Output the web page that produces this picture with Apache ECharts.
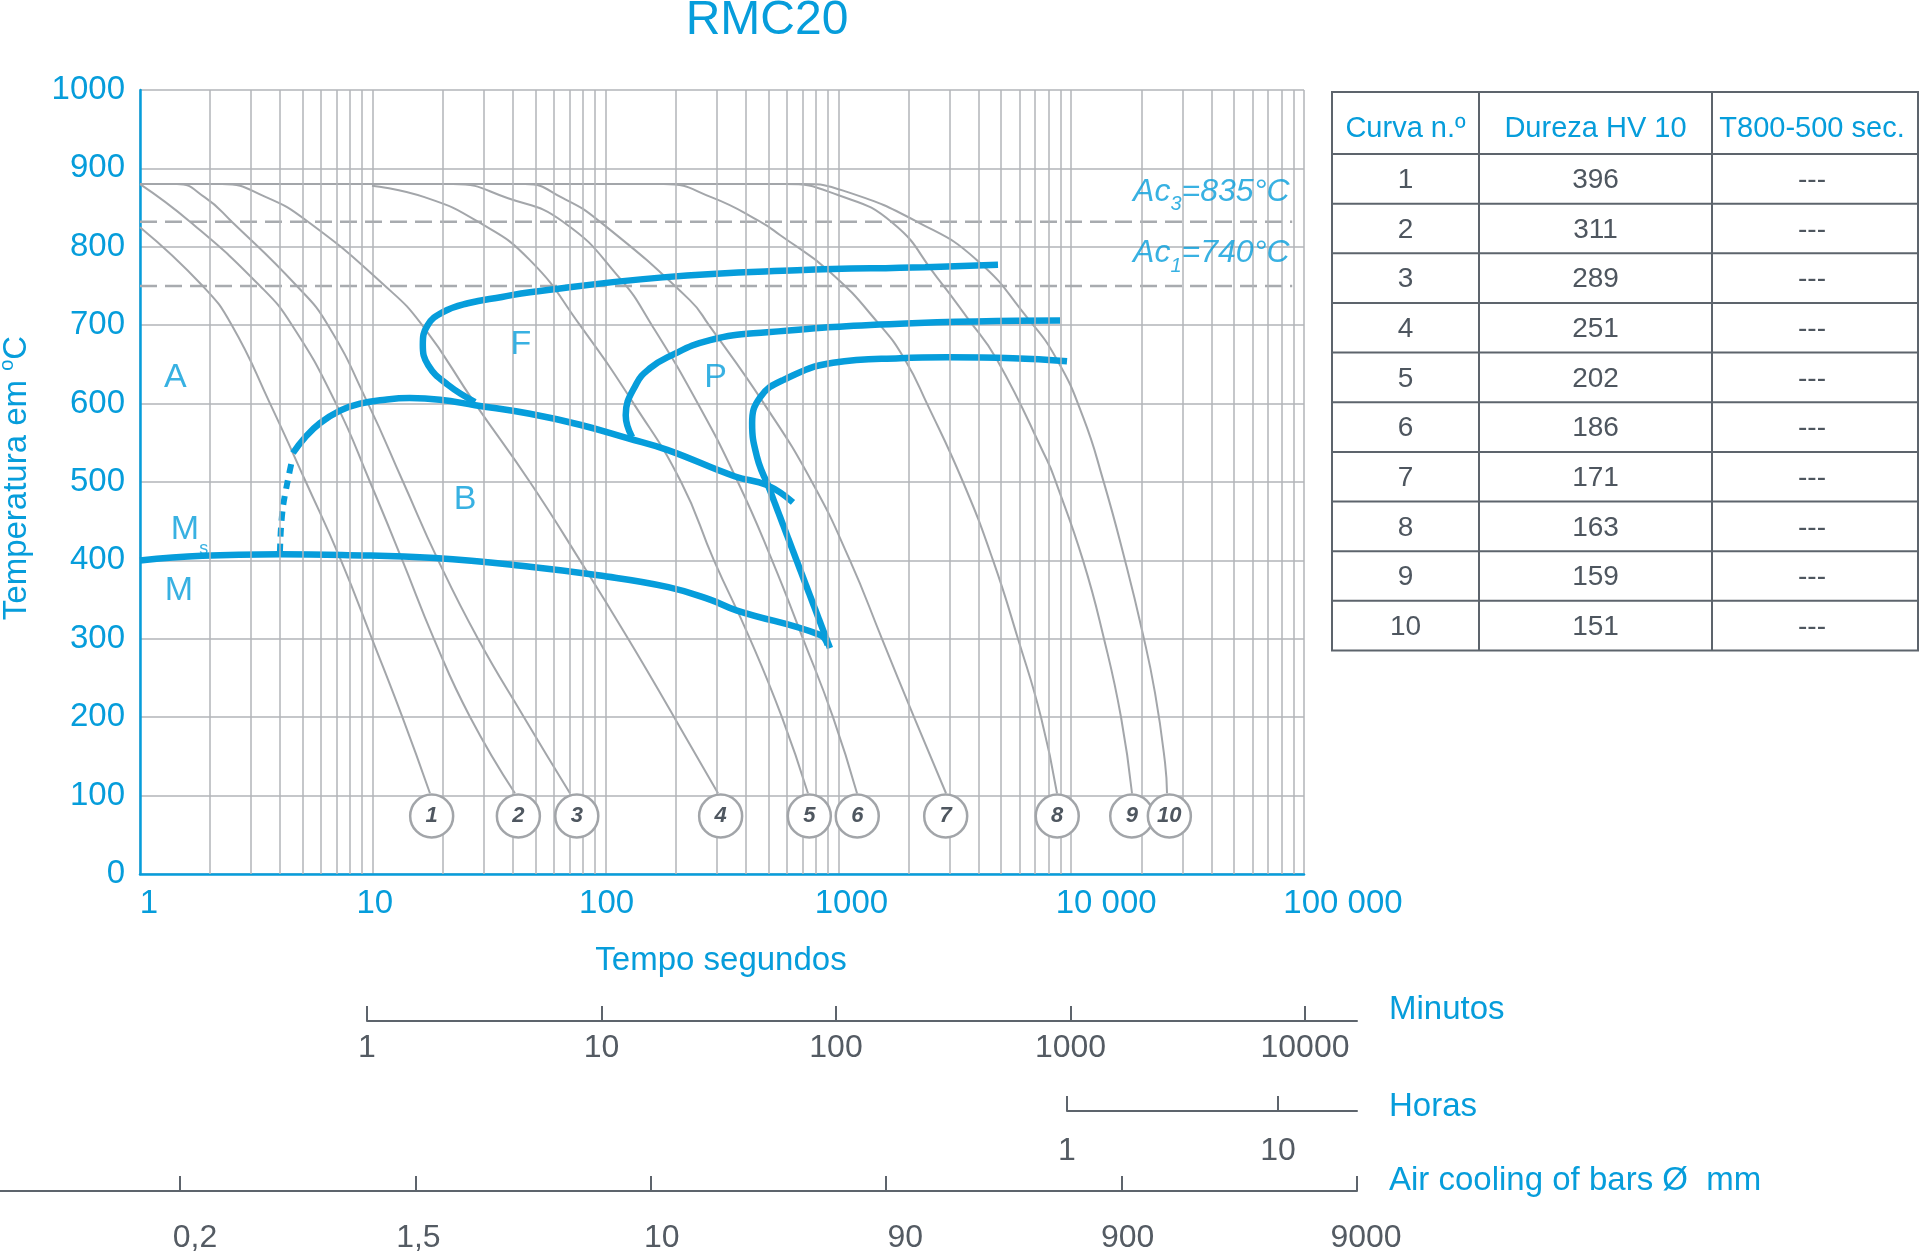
<!DOCTYPE html>
<html>
<head>
<meta charset="utf-8">
<title>RMC20</title>
<script src="https://cdn.jsdelivr.net/npm/echarts@6.0.0/dist/echarts.min.js"></script>
<style>
html,body{margin:0;padding:0;background:#ffffff;}
#chart{width:1920px;height:1258px;}
</style>
</head>
<body>
<div id="chart"></div>
<script>
// ---------------- data ----------------
const xTickLabels = ['1', '10', '100', '1000', '10 000', '100 000'];

// cooling curves: [time s, temperature °C]
const curve1 = [[1,825],[1.86,750],[2.48,700],[3.62,600],[5.16,500],[7.30,400],[9.92,300],[13.4,200],[17.6,103]];
const curve2 = [[1,880],[1.64,832],[3.28,750],[4.50,700],[6.95,600],[9.73,500],[13.4,400],[18.3,300],[26.2,200],[40.8,103]];
const curve3 = [[1,880],[1.44,880],[1.90,863],[2.48,832],[4.72,750],[6.42,700],[9.54,600],[13.5,500],[19.1,400],[28.3,300],[44.6,200],[70.3,103]];
const curve4 = [[1,880],[2.25,880],[3.44,864],[5.27,832],[11.3,750],[16.3,700],[27.5,600],[47.3,500],[77.6,400],[125,300],[197,200],[304,103]];
const curve5 = [[9.92,878],[16.8,863],[28.3,832],[47.3,783],[77.6,700],[132,600],[211,500],[292,400],[417,300],[572,200],[740,103]];
const curve6 = [[1,880],[22.1,880],[38.1,862],[65.6,832],[115,760],[158,700],[249,600],[370,500],[519,400],[705,300],[948,200],[1202,103]];
const curve7 = [[1,880],[45.1,880],[65.6,862],[94.6,832],[230,732],[278,700],[479,600],[770,500],[1121,400],[1539,300],[2113,200],[2899,103]];
const curve8 = [[1,880],[178,880],[286,863],[461,832],[561,815],[920,768],[1509,700],[1932,656],[2402,600],[3430,500],[4616,400],[5907,300],[7419,200],[8690,103]];
const curve9 = [[1,880],[584,880],[995,866],[1716,830],[2651,761],[3567,710],[4800,656],[7870,528],[8519,503],[11240,400],[13830,300],[16370,200],[18249,103]];
const curve10 = [[1,880],[700,880],[1089,870],[2242,830],[3939,783],[6460,710],[8690,656],[11240,583],[13700,503],[17026,400],[20146,311],[22909,231],[25294,142],[25800,103]];

// transformation lines
const ferriteStart = [[27.5,602],[21.0,624],[17.3,649],[16.4,675],[17.2,700],[20.1,717],[25.6,728],[35.9,736],[47.3,742],[176,761],[664,770],[2355,774],[4848,777]];
const bainiteStart = [[4.54,537],[5.12,557],[5.93,575],[7.23,591],[8.81,600],[11.3,605],[14.4,607],[19.4,605],[27.5,598],[47.3,587],[77.6,573],[124,556],[184,541],[360,507],[494,496],[638,474]];
const pearliteStart = [[130,557],[122,585],[136,626],[155,645],[184,659],[281,681],[494,691],[1839,702],[8952,706]];
const pearliteFinish = [[9594,654],[5623,658],[2928,659],[1839,658],[948,652],[578,630],[461,608],[426,575],[447,532],[494,499]];
const transformEnd = [[494,499],[920,288]];
const msLine = [[1,400],[1.85,406],[3.99,408],[7.37,407],[18.5,403],[47.3,392],[93,381],[186,366],[281,350],[367,336],[834,305],[900,292]];
const msDashed = [[3.99,410],[4.03,440],[4.12,470],[4.30,500],[4.50,528]];
const ac3Line = [[1,832],[89000,832]];
const ac1Line = [[1,750],[89000,750]];

// numbered circles at the end of each cooling curve
const circleTimes = [17.9, 42.2, 75.2, 312, 750, 1205, 2890, 8710, 18200, 26400];
const circleTemp = 74;
const circleNumbers = ['1','2','3','4','5','6','7','8','9','10'];

// phase labels
const regionText = ['A', 'F', 'P', 'B', 'M', 'M'];
const regionPos = [[1.42,633],[43.3,675],[297,633],[24.9,477],[1.56,439],[1.47,362]];
const subText = ['s'];
const subPos = [[1.88,415]];
const acText = ['{i|Ac}{sub|3}{i|=835°C}', '{i|Ac}{sub|1}{i|=740°C}'];
const acPos = [[87100,870],[87100,792]];

// table
const tableHeaders = ['Curva n.º', 'Dureza HV 10', 'T800-500 sec.'];
const tableCurveNo = ['1','2','3','4','5','6','7','8','9','10'];
const tableHardness = ['396','311','289','251','202','186','171','163','159','151'];
const tableT800500 = ['---','---','---','---','---','---','---','---','---','---'];

// secondary scales
const minutosLabels = ['1', '10', '100', '1000', '10000'];
const horasLabels = ['1', '10'];
const airLabels = ['0,2', '1,5', '10', '90', '900', '9000'];

// ---------------- styling ----------------
const FONT = "'Liberation Sans', Arial, Helvetica, sans-serif";
const BLUE = '#069ddb';
const GRID = '#b2b5b9';
const CURVE = '#a3a6aa';
const DASH = '#a8abaf';
const DARK = '#545b63';
const TLINE = '#5d646c';

// minor log grid lines (2..9 of each decade)
const minorGrid = [];
for (let d = 0; d < 5; d++) {
  for (let m = 2; m <= 9; m++) minorGrid.push(m * Math.pow(10, d));
}

const xLabelPad = [18, 4, 2, 26, 70, 78];
const xRich = {};
xLabelPad.forEach((p, i) => {
  xRich['r' + i] = {padding: [0, 0, 0, p], color: BLUE, fontSize: 33, fontFamily: FONT};
});
const airPad = [30, 6, 22, 38, 12, 18];
const airRich = {};
airPad.forEach((p, i) => {
  airRich['a' + i] = {padding: [0, 0, 0, p], color: DARK, fontSize: 32, fontFamily: FONT};
});

function lineSeries(data, color, width, extra) {
  return Object.assign({
    type: 'line', data: data, xAxisIndex: 0, yAxisIndex: 0,
    symbol: 'none', showSymbol: false, silent: true,
    lineStyle: {color: color, width: width},
    emphasis: {disabled: true}, z: 3
  }, extra || {});
}

const series = [];
// minor grid
series.push({
  type: 'line', data: [[1, 0]], symbol: 'none', silent: true, z: 1,
  lineStyle: {width: 0},
  markLine: {
    silent: true, symbol: ['none', 'none'], label: {show: false},
    lineStyle: {color: GRID, width: 1.5, type: 'solid'},
    emphasis: {disabled: true},
    data: minorGrid.map(v => ({xAxis: v}))
  }
});
// Ac lines
series.push(lineSeries(ac3Line, DASH, 2.5, {lineStyle: {color: DASH, width: 2.5, type: [17, 8]}, z: 2}));
series.push(lineSeries(ac1Line, DASH, 2.5, {lineStyle: {color: DASH, width: 2.5, type: [17, 8]}, z: 2}));
// cooling curves
[curve1, curve2, curve3, curve4, curve5, curve6, curve7, curve8, curve9, curve10].forEach(c => {
  series.push(lineSeries(c, CURVE, 2, {smooth: 0.5}));
});
// transformation lines
[ferriteStart, bainiteStart, pearliteStart, pearliteFinish, msLine].forEach(c => {
  series.push(lineSeries(c, BLUE, 6.5, {smooth: 0.45, z: 4}));
});
series.push(lineSeries(transformEnd, BLUE, 6.5, {z: 4}));
series.push(lineSeries(msDashed, BLUE, 6, {smooth: 0.3, z: 4, lineStyle: {color: BLUE, width: 6, type: [9, 7]}}));
// circles
series.push({
  type: 'scatter', silent: true, z: 6,
  data: circleTimes.map((t, i) => [t, circleTemp, circleNumbers[i]]),
  symbol: 'circle', symbolSize: 43,
  itemStyle: {color: '#ffffff', borderColor: '#a2a5a9', borderWidth: 2.5, opacity: 1},
  label: {show: true, position: 'inside', formatter: p => p.data[2],
          color: '#4f5760', fontSize: 22, fontStyle: 'italic', fontWeight: 'bold', fontFamily: FONT},
  emphasis: {disabled: true}
});
// region labels
series.push({
  type: 'scatter', silent: true, z: 7, symbolSize: 1,
  itemStyle: {color: 'rgba(0,0,0,0)'},
  data: regionText.map((s, i) => ({value: regionPos[i], label: {formatter: s}})),
  label: {show: true, position: 'inside', color: BLUE, fontSize: 34, fontFamily: FONT},
  emphasis: {disabled: true}
});
series.push({
  type: 'scatter', silent: true, z: 7, symbolSize: 1,
  itemStyle: {color: 'rgba(0,0,0,0)'},
  data: subText.map((s, i) => ({value: subPos[i], label: {formatter: s}})),
  label: {show: true, position: 'inside', color: BLUE, fontSize: 18, fontFamily: FONT},
  emphasis: {disabled: true}
});
series.push({
  type: 'scatter', silent: true, z: 7, symbolSize: 1,
  itemStyle: {color: 'rgba(0,0,0,0)'},
  data: acText.map((s, i) => ({value: acPos[i], label: {formatter: s}})),
  label: {show: true, position: 'left', distance: 0,
    rich: {
      i: {fontSize: 32, fontStyle: 'italic', color: BLUE, fontFamily: FONT, lineHeight: 46},
      sub: {fontSize: 20, fontStyle: 'italic', color: BLUE, fontFamily: FONT, verticalAlign: 'bottom', lineHeight: 20}
    }},
  emphasis: {disabled: true}
});

// ---------------- graphic (title, names, table) ----------------
const graphics = [];
graphics.push({type: 'text', x: 767, y: 21, z: 10,
  style: {text: 'RMC20', fill: BLUE, fontSize: 48, fontFamily: FONT, align: 'center', verticalAlign: 'middle'}});
graphics.push({type: 'text', x: 17, y: 478, rotation: Math.PI / 2, z: 10,
  style: {text: '{a|Temperatura em }{s|o}{a|C}', align: 'center', verticalAlign: 'middle',
    rich: {a: {fontSize: 33, fontFamily: FONT, fill: BLUE, lineHeight: 40},
           s: {fontSize: 20, fontFamily: FONT, fill: BLUE, verticalAlign: 'top', lineHeight: 28}}}});
graphics.push({type: 'text', x: 721, y: 961, z: 10,
  style: {text: 'Tempo segundos', fill: BLUE, fontSize: 33, fontFamily: FONT, align: 'center', verticalAlign: 'middle'}});
graphics.push({type: 'text', x: 1389, y: 1010, z: 10,
  style: {text: 'Minutos', fill: BLUE, fontSize: 33, fontFamily: FONT, align: 'left', verticalAlign: 'middle'}});
graphics.push({type: 'text', x: 1389, y: 1107, z: 10,
  style: {text: 'Horas', fill: BLUE, fontSize: 33, fontFamily: FONT, align: 'left', verticalAlign: 'middle'}});
graphics.push({type: 'text', x: 1389, y: 1181, z: 10,
  style: {text: 'Air cooling of bars Ø  mm', fill: BLUE, fontSize: 33, fontFamily: FONT, align: 'left', verticalAlign: 'middle'}});

// table
const tableX = [1332, 1479, 1712, 1918];
const tableTop = 92, headerBottom = 154, rowH = 49.65;
const colCenters = [1405.5, 1595.5, 1812];
const tableBottom = headerBottom + rowH * tableCurveNo.length;
graphics.push({type: 'rect', z: 5,
  shape: {x: tableX[0], y: tableTop, width: tableX[3] - tableX[0], height: tableBottom - tableTop},
  style: {fill: '#ffffff', stroke: TLINE, lineWidth: 2}});
for (let i = 0; i < tableCurveNo.length; i++) {
  const y = headerBottom + i * rowH;
  graphics.push({type: 'line', z: 6, shape: {x1: tableX[0], y1: y, x2: tableX[3], y2: y},
    style: {stroke: TLINE, lineWidth: 2}});
}
[tableX[1], tableX[2]].forEach(x => {
  graphics.push({type: 'line', z: 6, shape: {x1: x, y1: tableTop, x2: x, y2: tableBottom},
    style: {stroke: TLINE, lineWidth: 2}});
});
tableHeaders.forEach((h, j) => {
  graphics.push({type: 'text', x: colCenters[j], y: 129, z: 7,
    style: {text: h, fill: BLUE, fontSize: 29, fontFamily: FONT, align: 'center', verticalAlign: 'middle'}});
});
const tableCols = [tableCurveNo, tableHardness, tableT800500];
for (let i = 0; i < tableCurveNo.length; i++) {
  const yc = headerBottom + (i + 0.5) * rowH + 1.5;
  tableCols.forEach((col, j) => {
    graphics.push({type: 'text', x: colCenters[j], y: yc, z: 7,
      style: {text: col[i], fill: '#4e565f', fontSize: 28, fontFamily: FONT, align: 'center', verticalAlign: 'middle'}});
  });
}

// ---------------- option ----------------
function secAxis(gridIndex, min, max, ticks, labels, margin, rich) {
  return {
    type: 'value', gridIndex: gridIndex, min: min, max: max, position: 'bottom',
    axisLine: {show: true, onZero: false, lineStyle: {color: TLINE, width: 2}},
    axisTick: {show: true, inside: true, length: 15, customValues: ticks, lineStyle: {color: TLINE, width: 2}},
    axisLabel: {show: true, customValues: ticks, margin: margin, color: DARK, fontSize: 32, fontFamily: FONT,
      formatter: v => {
        const i = Math.round(v);
        return rich ? '{a' + i + '|' + labels[i] + '}' : labels[i];
      },
      rich: rich || {}},
    splitLine: {show: false}
  };
}

const option = {
  animation: false,
  backgroundColor: '#ffffff',
  textStyle: {fontFamily: FONT},
  grid: [
    {left: 140, right: 616, top: 90, bottom: 384},
    {left: 367, right: 563, top: 1001, height: 20},
    {left: 1067, right: 563, top: 1091, height: 20},
    {left: 0, right: 563, top: 1171, height: 20}
  ],
  xAxis: [
    {
      type: 'log', logBase: 10, min: 1, max: 100000, gridIndex: 0,
      axisLine: {show: true, onZero: false, lineStyle: {color: BLUE, width: 2.5}},
      axisTick: {show: false},
      axisLabel: {show: true, color: BLUE, fontSize: 33, fontFamily: FONT, margin: 13,
        showMinLabel: true, showMaxLabel: true,
        formatter: v => {
          const i = Math.round(Math.log10(v));
          return '{r' + i + '|' + xTickLabels[i] + '}';
        },
        rich: xRich},
      splitLine: {show: true, lineStyle: {color: GRID, width: 1.5}}
    },
    secAxis(1, 0, 4.2217, [0, 1, 2, 3, 4], minutosLabels, 11),
    secAxis(2, 0, 1.374, [0, 1], horasLabels, 24),
    secAxis(3, -0.7647, 5, [0, 1, 2, 3, 4, 5], airLabels, 31, airRich)
  ],
  yAxis: [
    {
      type: 'value', gridIndex: 0, min: 0, max: 1000, interval: 100,
      axisLine: {show: true, onZero: false, lineStyle: {color: BLUE, width: 2.5}},
      axisTick: {show: false},
      axisLabel: {color: BLUE, fontSize: 33, fontFamily: FONT, margin: 15, formatter: v => String(v)},
      splitLine: {show: true, lineStyle: {color: GRID, width: 1.5}}
    },
    {type: 'value', gridIndex: 1, min: 0, max: 1, show: false},
    {type: 'value', gridIndex: 2, min: 0, max: 1, show: false},
    {type: 'value', gridIndex: 3, min: 0, max: 1, show: false}
  ],
  series: series,
  graphic: graphics
};

const chart = echarts.init(document.getElementById('chart'));
chart.setOption(option);
</script>
</body>
</html>
